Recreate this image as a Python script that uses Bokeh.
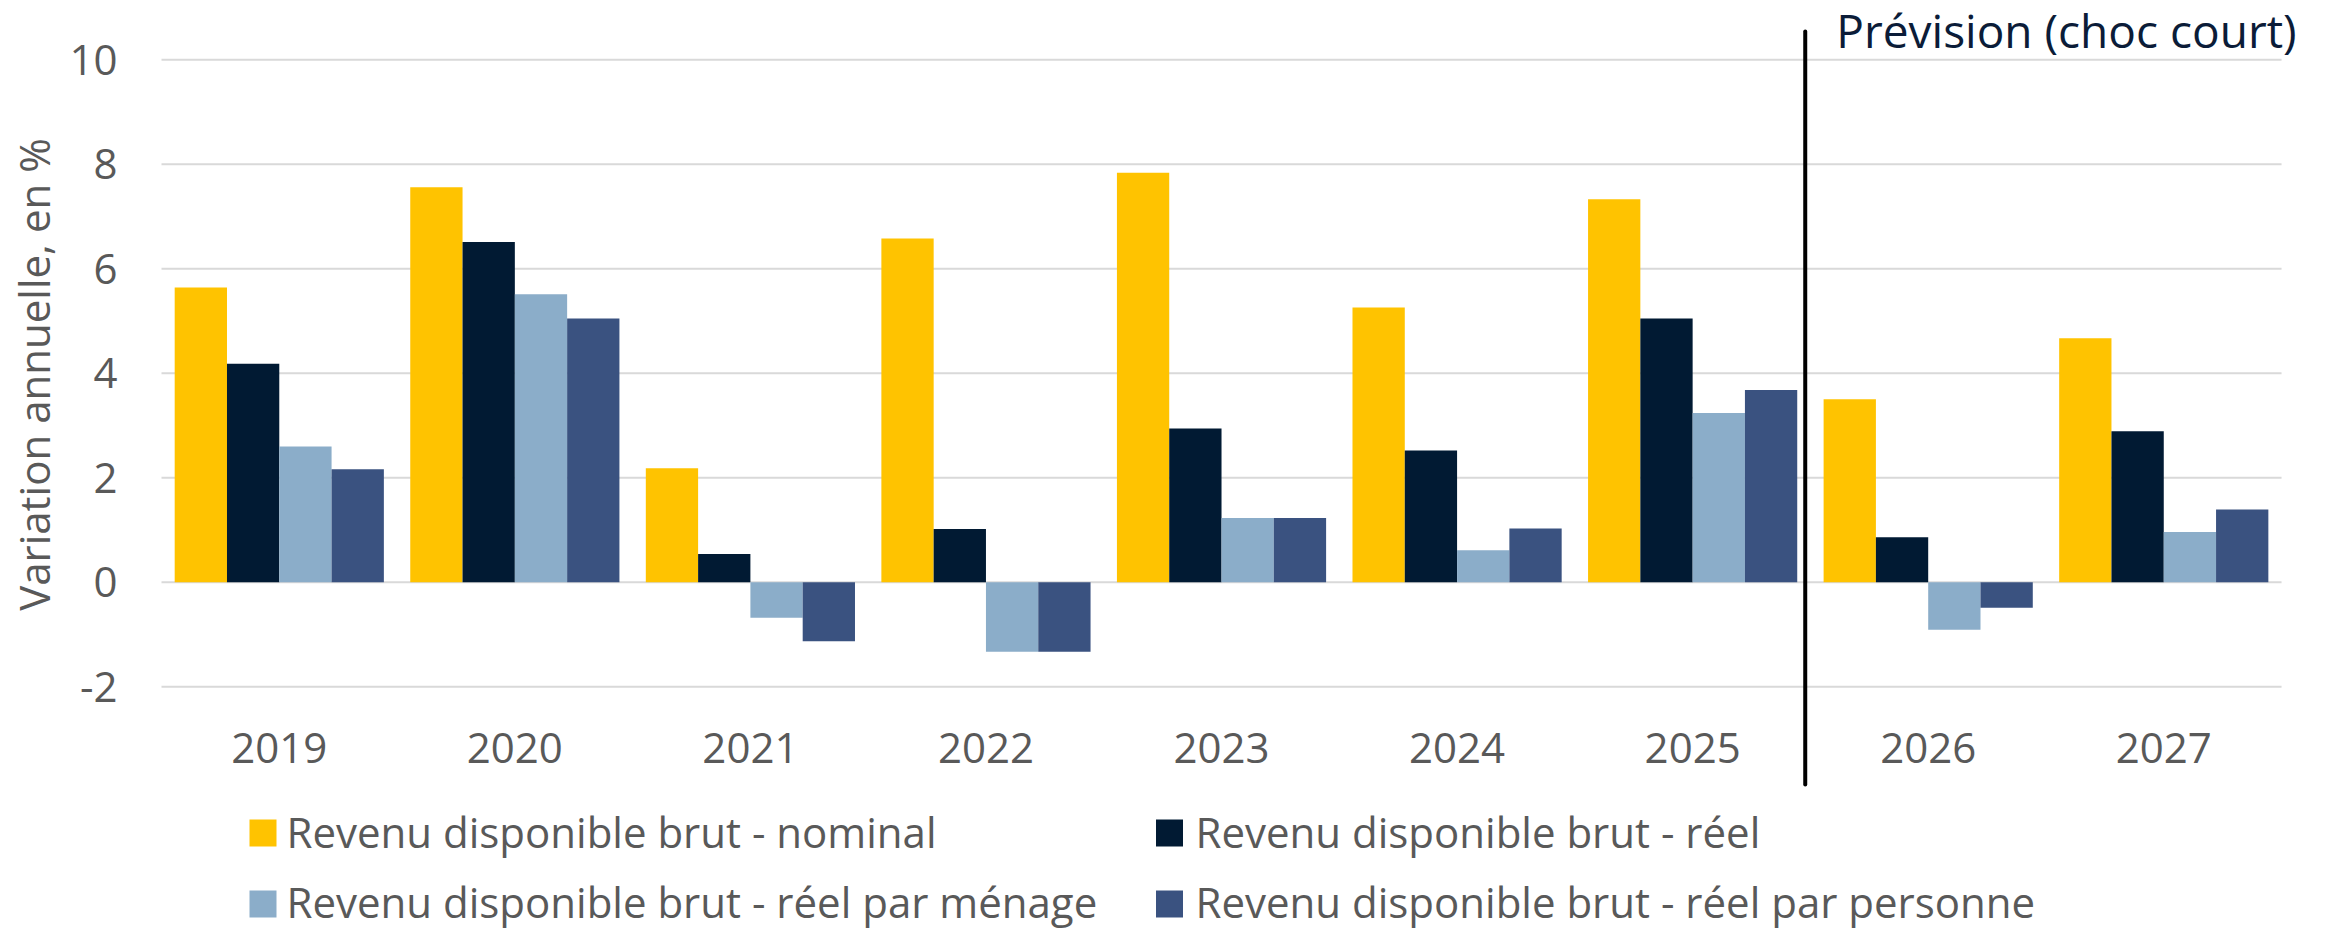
import math
import numpy as np
from bokeh.plotting import figure
from bokeh.models import Range1d, ColumnDataSource
from bokeh.core.properties import value
from bokeh.embed import file_html
from bokeh.resources import INLINE

# ---- data ----
years = ["2019", "2020", "2021", "2022", "2023", "2024", "2025", "2026", "2027"]
series_names = [
    "Revenu disponible brut - nominal",
    "Revenu disponible brut - réel",
    "Revenu disponible brut - réel par ménage",
    "Revenu disponible brut - réel par personne",
]
nominal = [5.64, 7.56, 2.18, 6.58, 7.84, 5.26, 7.33, 3.50, 4.67]
reel = [4.18, 6.51, 0.54, 1.02, 2.94, 2.52, 5.05, 0.86, 2.89]
reel_menage = [2.60, 5.51, -0.68, -1.33, 1.23, 0.61, 3.24, -0.91, 0.96]
reel_personne = [2.16, 5.05, -1.13, -1.33, 1.23, 1.03, 3.68, -0.49, 1.39]
y_ticks = [-2, 0, 2, 4, 6, 8, 10]
y_tick_labels = ["-2", "0", "2", "4", "6", "8", "10"]
forecast_label = "Prévision (choc court)"
y_title = "Variation annuelle, en %"
first_forecast_year = "2026"

colors = ["#FFC300", "#011A33", "#8BADC9", "#3A5280"]
FONT = "Open Sans"
GREY = "#595959"

# ---- layout (pixels of the 2335x929 canvas) ----
W, H = 2335, 929
PLOT_LEFT_PX, CAT_PX = 161.0, 235.56      # left edge of first category, width of a category
ZERO_PX, UNIT_PX = 581.7, 52.24           # pixel row of y=0, pixels per unit


def dx(px):
    return (px - PLOT_LEFT_PX) / CAT_PX


def dy(py):
    return (ZERO_PX - py) / UNIT_PX


p = figure(width=W, height=H, output_backend="svg", toolbar_location=None,
           x_range=Range1d(dx(0), dx(W)), y_range=Range1d(dy(H), dy(0)),
           x_axis_type=None, y_axis_type=None,
           min_border=0, min_border_left=0, min_border_right=0,
           min_border_top=0, min_border_bottom=0)
p.outline_line_color = None
p.grid.visible = False

n = len(years)
xc = np.arange(n) + 0.5

# horizontal grid lines
p.segment(x0=[0] * len(y_ticks), x1=[n] * len(y_ticks), y0=y_ticks, y1=y_ticks,
          line_color="#D9D9D9", line_width=2)

# y tick labels
p.text(x=[dx(117)] * len(y_ticks), y=y_ticks, text=y_tick_labels, text_align="right",
       text_baseline="middle", text_font=value(FONT), text_font_size="42px", text_color=GREY)

# bars
bw = 0.222
offsets = [-1.5 * bw, -0.5 * bw, 0.5 * bw, 1.5 * bw]
for vals, off, c in zip([nominal, reel, reel_menage, reel_personne], offsets, colors):
    src = ColumnDataSource(dict(x=xc + off, top=vals))
    p.vbar(x="x", top="top", bottom=0, width=bw, source=src, fill_color=c, line_color=None)

# year labels
p.text(x=xc, y=[dy(747)] * n, text=years, text_align="center", text_baseline="middle",
       text_font=value(FONT), text_font_size="42px", text_color=GREY)

# forecast separator and label
sep_x = years.index(first_forecast_year) - 0.022
p.segment(x0=[sep_x], x1=[sep_x], y0=[dy(31)], y1=[dy(784)], line_color="black",
          line_width=4, line_cap="round")
p.text(x=[sep_x + dx(1836) - dx(1805)], y=[dy(29)], text=[forecast_label], text_align="left",
       text_baseline="middle", text_font=value(FONT), text_font_size="46px",
       text_color="#0B1C38")

# y axis title
p.text(x=[dx(33)], y=[dy(374)], text=[y_title], angle=math.pi / 2, text_align="center",
       text_baseline="middle", text_font=value(FONT), text_font_size="42px",
       text_color=GREY)

# legend (2 columns x 2 rows)
leg_sq_x = [262.5, 1169.0, 262.5, 1169.0]
leg_sq_y = [832.5, 832.5, 903.5, 903.5]
leg_tx_x = [286.0, 1195.0, 286.0, 1195.0]
leg_tx_y = [831.0, 831.0, 900.5, 900.5]
order = [0, 1, 2, 3]
p.rect(x=[dx(v) for v in leg_sq_x], y=[dy(v) for v in leg_sq_y], width=27, height=27,
       width_units="screen", height_units="screen",
       fill_color=[colors[i] for i in order], line_color=None)
p.text(x=[dx(v) for v in leg_tx_x], y=[dy(v) for v in leg_tx_y],
       text=[series_names[i] for i in order], text_align="left", text_baseline="middle",
       text_font=value(FONT), text_font_size="42px", text_color=GREY)

open("out.html", "w").write(file_html(p, INLINE))
